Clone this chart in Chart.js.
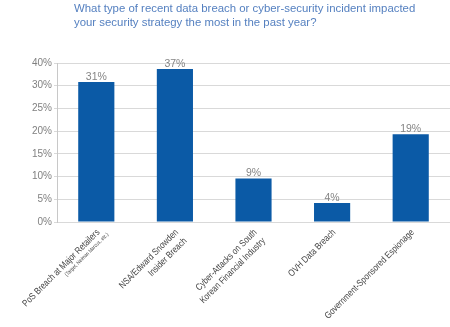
<!DOCTYPE html>
<html><head><meta charset="utf-8">
<script src="https://cdn.jsdelivr.net/npm/chart.js@4/dist/chart.umd.min.js"></script>
<style>html,body{margin:0;padding:0;background:#fff}#wrap{width:450px;height:327px;position:relative}</style>
</head><body><div id="wrap"><canvas id="c" width="450" height="327"></canvas></div>
<script>
const titleLines = ["What type of recent data breach or cyber-security incident impacted", "your security strategy the most in the past year?"];
const categories = [["PoS Breach at Major Retailers"], ["NSA/Edward Snowden", "Insider Breach"], ["Cyber-Attacks on South", "Korean Financial Industry"], ["OVH Data Breach"], ["Government-Sponsored Espionage"]];
const categoryNotes = ["(Target, Neiman Marcus, etc.)", "", "", "", ""];
const barValues = [30.8, 33.7, 9.6, 4.2, 19.3];
const valueLabels = ["31%", "37%", "9%", "4%", "19%"];
const yTickValues = [0, 5, 10, 15, 20, 25, 30, 35];
const yTickLabels = ["0%", "5%", "10%", "15%", "20%", "25%", "30%", "40%"];

const FONT = '"Liberation Sans", Arial, sans-serif';

const titlePlugin = {
  id: 'titleText',
  afterDraw(chart) {
    const ctx = chart.ctx;
    ctx.save();
    ctx.fillStyle = '#5580c0';
    ctx.font = '11.4px ' + FONT;
    ctx.textAlign = 'left';
    ctx.textBaseline = 'middle';
    titleLines.forEach((t, i) => ctx.fillText(t, 74, 9 + i * 14.3));
    ctx.restore();
  }
};

const valuePlugin = {
  id: 'valueLabels',
  afterDatasetsDraw(chart) {
    const ctx = chart.ctx;
    const meta = chart.getDatasetMeta(0);
    ctx.save();
    ctx.fillStyle = '#858585';
    ctx.font = '10.5px ' + FONT;
    ctx.textAlign = 'center';
    ctx.textBaseline = 'alphabetic';
    meta.data.forEach((bar, i) => ctx.fillText(valueLabels[i], bar.x, bar.y - 2));
    ctx.restore();
  }
};

const xLabelPlugin = {
  id: 'xLabels',
  afterDraw(chart) {
    const ctx = chart.ctx;
    const x = chart.scales.x;
    const bottom = chart.chartArea.bottom;
    categories.forEach((lines, i) => {
      const px = x.getPixelForValue(i);
      ctx.save();
      ctx.translate(px + 2, bottom + 9);
      ctx.rotate(-Math.PI / 4);
      ctx.scale(0.82, 1);
      ctx.textAlign = 'right';
      ctx.textBaseline = 'middle';
      ctx.fillStyle = '#444444';
      ctx.font = '9.5px ' + FONT;
      lines.forEach((t, j) => ctx.fillText(t, 0, j * 12));
      if (categoryNotes[i]) {
        ctx.font = '5.5px ' + FONT;
        ctx.fillText(categoryNotes[i], 6, 8.5);
      }
      ctx.restore();
    });
  }
};

new Chart(document.getElementById('c'), {
  type: 'bar',
  data: {
    labels: categories.map(c => c.join(' ')),
    datasets: [{
      data: barValues,
      backgroundColor: '#0b5aa6',
      borderWidth: 0,
      categoryPercentage: 1,
      barPercentage: 0.46
    }]
  },
  options: {
    responsive: false,
    animation: false,
    devicePixelRatio: 1,
    layout: { padding: { top: 63, left: 0, right: 0, bottom: 0 } },
    plugins: { legend: { display: false }, tooltip: { enabled: false }, title: { display: false } },
    scales: {
      x: {
        grid: { display: false },
        border: { display: false },
        ticks: { display: false },
        afterFit(s) { s.height = 105; }
      },
      y: {
        min: 0,
        max: 35,
        afterBuildTicks(s) { s.ticks = yTickValues.map(v => ({ value: v })); },
        ticks: {
          callback: (v, i) => yTickLabels[i],
          color: '#808080',
          font: { family: FONT, size: 10 },
          padding: 2
        },
        grid: { color: '#d9d9d9', tickLength: 3, lineWidth: 1 },
        border: { display: true, color: '#c8c8c8' },
        afterFit(s) { s.width = 57; }
      }
    }
  },
  plugins: [titlePlugin, valuePlugin, xLabelPlugin]
});
</script></body></html>
